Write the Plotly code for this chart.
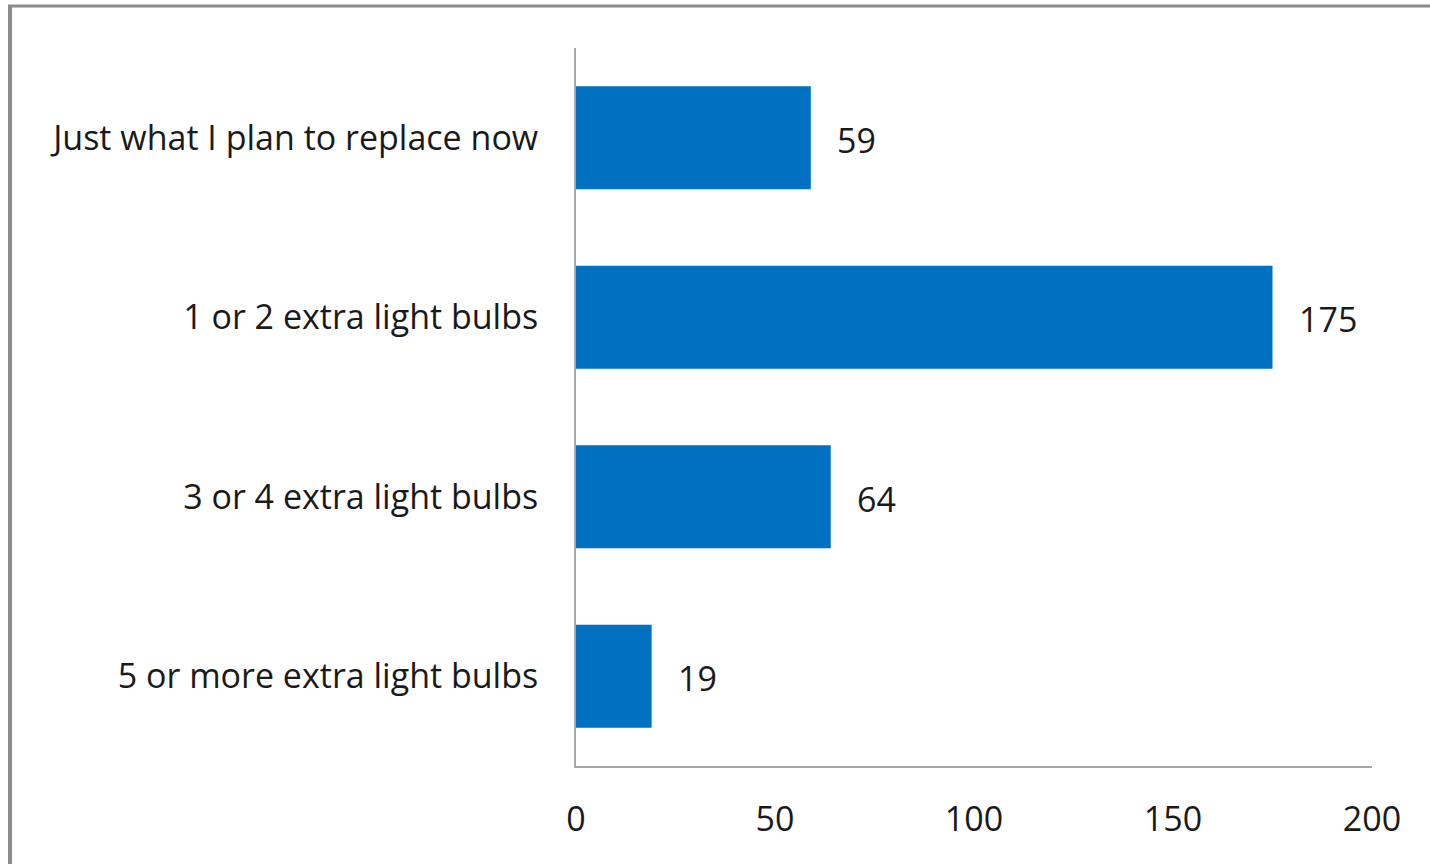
import plotly.graph_objects as go

categories = [
    "Just what I plan to replace now",
    "1 or 2 extra light bulbs",
    "3 or 4 extra light bulbs",
    "5 or more extra light bulbs",
]
counts = [59, 175, 64, 19]
x_ticks = [0, 50, 100, 150, 200]

W, H = 1430, 864
ML, MR, MT, MB = 576, 58, 48, 98
plot_w = W - ML - MR
plot_h = H - MT - MB

FONT = "Open Sans"
FS = 34
TXT = "#1a1a1a"
AXIS = "#a6a6a6"

fig = go.Figure(
    go.Bar(
        y=categories,
        x=counts,
        orientation="h",
        marker=dict(color="#0070C0", line=dict(width=0)),
        hoverinfo="skip",
    )
)

# value labels to the right of each bar
for cat, v in zip(categories, counts):
    fig.add_annotation(
        x=v, y=cat, text=str(v), showarrow=False,
        xanchor="left", yanchor="middle", xshift=24, yshift=-2,
        font=dict(family=FONT, size=FS, color=TXT),
    )

# frame edges on the left and top of the canvas
def px_x(p):
    return (p - ML) / plot_w

def px_y(p):
    return (H - MB - p) / plot_h

fig.add_shape(type="line", xref="paper", yref="paper",
              x0=px_x(10), x1=px_x(10), y0=px_y(5), y1=px_y(H + 5),
              line=dict(color="#8c8c8c", width=4))
fig.add_shape(type="line", xref="paper", yref="paper",
              x0=px_x(8), x1=px_x(W + 5), y0=px_y(6), y1=px_y(6),
              line=dict(color="#8c8c8c", width=3))

fig.update_layout(
    width=W, height=H,
    margin=dict(l=ML, r=MR, t=MT, b=MB, pad=0),
    paper_bgcolor="white", plot_bgcolor="white",
    bargap=0.426,
    showlegend=False,
    font=dict(family=FONT, size=FS, color=TXT),
    xaxis=dict(
        range=[0, 200], tickvals=x_ticks, showgrid=False, zeroline=False,
        showline=True, linecolor=AXIS, linewidth=2, ticks="",
        ticklabelstandoff=22, tickfont=dict(family=FONT, size=FS, color=TXT),
    ),
    yaxis=dict(
        categoryorder="array", categoryarray=categories[::-1],
        showgrid=False, zeroline=False, showline=True, linecolor=AXIS,
        linewidth=2, ticks="", ticklabelstandoff=29,
        tickfont=dict(family=FONT, size=FS, color=TXT),
    ),
)

fig.write_html("out.html")
